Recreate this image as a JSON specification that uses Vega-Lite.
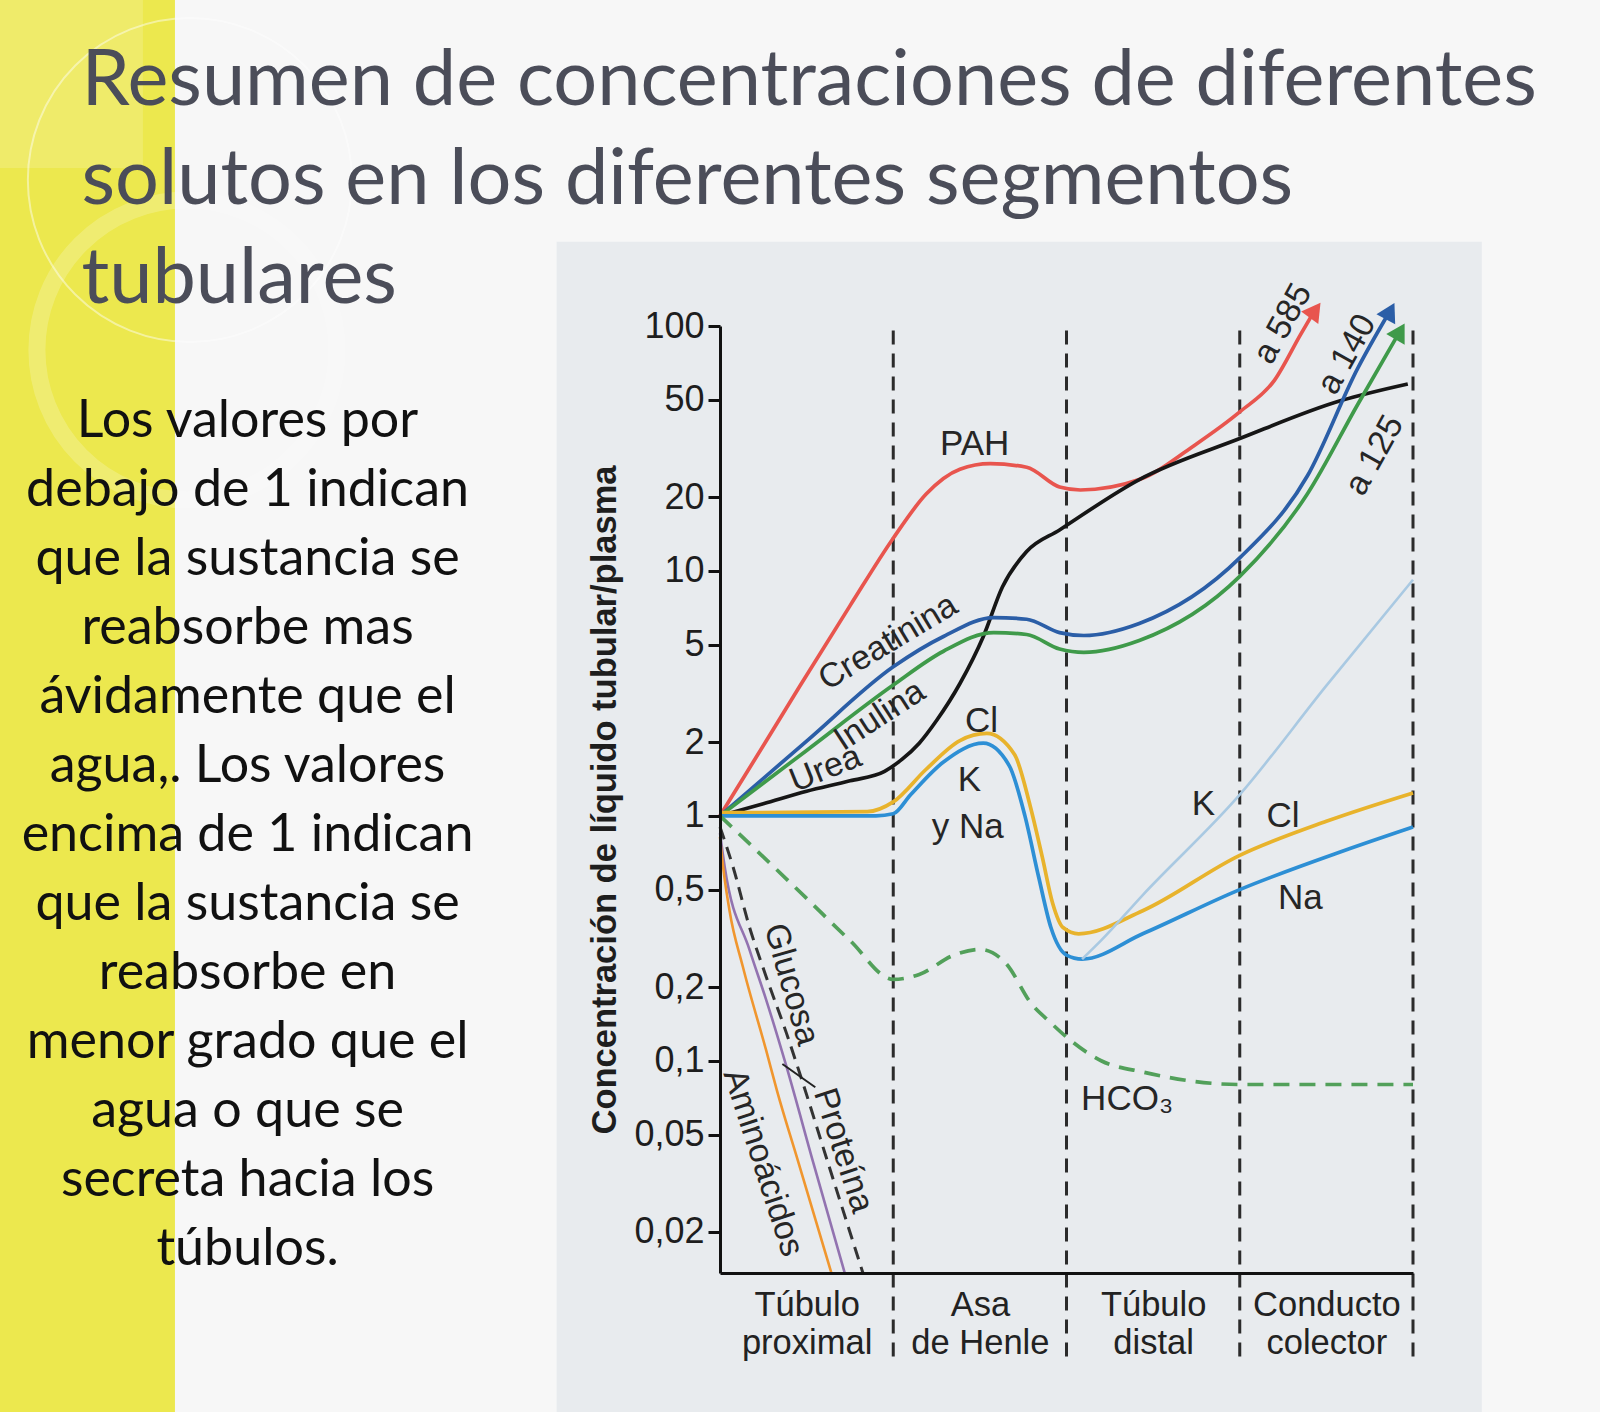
{
  "$schema": "https://vega.github.io/schema/vega-lite/v6.json",
  "width": 693,
  "height": 947,
  "autosize": {"type": "none"},
  "padding": {"left": 720, "top": 326, "right": 187, "bottom": 139},
  "background": "#f7f7f7",
  "config": {"view": {"stroke": null}, "font": "Liberation Sans"},
  "datasets": {
    "curves": [
      {"series": "PAH", "x": 0, "y": 1}, {"series": "PAH", "x": 0.27, "y": 2.04}, {"series": "PAH", "x": 0.462, "y": 3.4}, {"series": "PAH", "x": 0.75, "y": 7.2}, {"series": "PAH", "x": 1.0, "y": 13.6}, {"series": "PAH", "x": 1.19, "y": 20.6}, {"series": "PAH", "x": 1.385, "y": 26}, {"series": "PAH", "x": 1.56, "y": 27.4}, {"series": "PAH", "x": 1.77, "y": 26.5}, {"series": "PAH", "x": 1.96, "y": 22}, {"series": "PAH", "x": 2.08, "y": 21.4}, {"series": "PAH", "x": 2.42, "y": 23.6}, {"series": "PAH", "x": 2.75, "y": 33}, {"series": "PAH", "x": 3.0, "y": 44.6}, {"series": "PAH", "x": 3.2, "y": 60}, {"series": "PAH", "x": 3.35, "y": 92}, {"series": "PAH", "x": 3.43, "y": 115},
      {"series": "Urea", "x": 0, "y": 1}, {"series": "Urea", "x": 0.25, "y": 1.12}, {"series": "Urea", "x": 0.5, "y": 1.26}, {"series": "Urea", "x": 0.75, "y": 1.39}, {"series": "Urea", "x": 0.95, "y": 1.52}, {"series": "Urea", "x": 1.05, "y": 1.7}, {"series": "Urea", "x": 1.15, "y": 1.98}, {"series": "Urea", "x": 1.25, "y": 2.45}, {"series": "Urea", "x": 1.385, "y": 3.47}, {"series": "Urea", "x": 1.52, "y": 5.4}, {"series": "Urea", "x": 1.63, "y": 8.6}, {"series": "Urea", "x": 1.77, "y": 12}, {"series": "Urea", "x": 1.96, "y": 14.7}, {"series": "Urea", "x": 2.42, "y": 23.6}, {"series": "Urea", "x": 3.0, "y": 34.7}, {"series": "Urea", "x": 3.58, "y": 49.5}, {"series": "Urea", "x": 3.97, "y": 58},
      {"series": "Creatinina", "x": 0, "y": 1}, {"series": "Creatinina", "x": 0.5, "y": 2.02}, {"series": "Creatinina", "x": 1.0, "y": 4.06}, {"series": "Creatinina", "x": 1.29, "y": 5.4}, {"series": "Creatinina", "x": 1.58, "y": 6.45}, {"series": "Creatinina", "x": 1.77, "y": 6.35}, {"series": "Creatinina", "x": 1.96, "y": 5.6}, {"series": "Creatinina", "x": 2.1, "y": 5.45}, {"series": "Creatinina", "x": 2.42, "y": 6.1}, {"series": "Creatinina", "x": 3.0, "y": 11.3}, {"series": "Creatinina", "x": 3.39, "y": 24.4}, {"series": "Creatinina", "x": 3.68, "y": 67}, {"series": "Creatinina", "x": 3.86, "y": 113},
      {"series": "Inulina", "x": 0, "y": 1}, {"series": "Inulina", "x": 0.5, "y": 1.85}, {"series": "Inulina", "x": 1.0, "y": 3.42}, {"series": "Inulina", "x": 1.29, "y": 4.7}, {"series": "Inulina", "x": 1.58, "y": 5.6}, {"series": "Inulina", "x": 1.77, "y": 5.5}, {"series": "Inulina", "x": 1.96, "y": 4.8}, {"series": "Inulina", "x": 2.1, "y": 4.65}, {"series": "Inulina", "x": 2.42, "y": 5.2}, {"series": "Inulina", "x": 3.0, "y": 9.5}, {"series": "Inulina", "x": 3.39, "y": 20.6}, {"series": "Inulina", "x": 3.68, "y": 47.7}, {"series": "Inulina", "x": 3.92, "y": 94},
      {"series": "Cl", "x": 0, "y": 1.03}, {"series": "Cl", "x": 0.85, "y": 1.04}, {"series": "Cl", "x": 1.0, "y": 1.14}, {"series": "Cl", "x": 1.19, "y": 1.55}, {"series": "Cl", "x": 1.385, "y": 2.03}, {"series": "Cl", "x": 1.54, "y": 2.17}, {"series": "Cl", "x": 1.7, "y": 1.78}, {"series": "Cl", "x": 1.79, "y": 1.1}, {"series": "Cl", "x": 1.86, "y": 0.68}, {"series": "Cl", "x": 1.92, "y": 0.44}, {"series": "Cl", "x": 1.98, "y": 0.35}, {"series": "Cl", "x": 2.07, "y": 0.33}, {"series": "Cl", "x": 2.44, "y": 0.41}, {"series": "Cl", "x": 3.0, "y": 0.69}, {"series": "Cl", "x": 3.5, "y": 0.95}, {"series": "Cl", "x": 4.0, "y": 1.24},
      {"series": "Na", "x": 0, "y": 1}, {"series": "Na", "x": 0.9, "y": 1}, {"series": "Na", "x": 1.0, "y": 1.02}, {"series": "Na", "x": 1.1, "y": 1.22}, {"series": "Na", "x": 1.29, "y": 1.66}, {"series": "Na", "x": 1.52, "y": 1.98}, {"series": "Na", "x": 1.67, "y": 1.6}, {"series": "Na", "x": 1.76, "y": 1.0}, {"series": "Na", "x": 1.84, "y": 0.56}, {"series": "Na", "x": 1.91, "y": 0.35}, {"series": "Na", "x": 2.0, "y": 0.27}, {"series": "Na", "x": 2.09, "y": 0.26}, {"series": "Na", "x": 2.44, "y": 0.33}, {"series": "Na", "x": 3.0, "y": 0.5}, {"series": "Na", "x": 3.6, "y": 0.72}, {"series": "Na", "x": 4.0, "y": 0.9},
      {"series": "K", "x": 2.09, "y": 0.26}, {"series": "K", "x": 2.2, "y": 0.31}, {"series": "K", "x": 2.44, "y": 0.475}, {"series": "K", "x": 3.0, "y": 1.22}, {"series": "K", "x": 3.5, "y": 3.4}, {"series": "K", "x": 4.0, "y": 9.2},
      {"series": "HCO3", "x": 0, "y": 1}, {"series": "HCO3", "x": 0.25, "y": 0.68}, {"series": "HCO3", "x": 0.5, "y": 0.46}, {"series": "HCO3", "x": 0.75, "y": 0.31}, {"series": "HCO3", "x": 1.0, "y": 0.215}, {"series": "HCO3", "x": 1.15, "y": 0.225}, {"series": "HCO3", "x": 1.35, "y": 0.27}, {"series": "HCO3", "x": 1.5, "y": 0.285}, {"series": "HCO3", "x": 1.65, "y": 0.25}, {"series": "HCO3", "x": 1.8, "y": 0.17}, {"series": "HCO3", "x": 1.9, "y": 0.145}, {"series": "HCO3", "x": 2.0, "y": 0.125}, {"series": "HCO3", "x": 2.2, "y": 0.1}, {"series": "HCO3", "x": 2.44, "y": 0.09}, {"series": "HCO3", "x": 3.0, "y": 0.08}, {"series": "HCO3", "x": 4.0, "y": 0.08},
      {"series": "Glucosa", "x": 0, "y": 0.85}, {"series": "Glucosa", "x": 0.027, "y": 0.62}, {"series": "Glucosa", "x": 0.171, "y": 0.283}, {"series": "Glucosa", "x": 0.267, "y": 0.177}, {"series": "Glucosa", "x": 0.383, "y": 0.095}, {"series": "Glucosa", "x": 0.54, "y": 0.038}, {"series": "Glucosa", "x": 0.72, "y": 0.0136},
      {"series": "Aminoácidos", "x": 0, "y": 0.82}, {"series": "Aminoácidos", "x": 0.0075, "y": 0.72}, {"series": "Aminoácidos", "x": 0.055, "y": 0.41}, {"series": "Aminoácidos", "x": 0.132, "y": 0.242}, {"series": "Aminoácidos", "x": 0.267, "y": 0.11}, {"series": "Aminoácidos", "x": 0.33, "y": 0.075}, {"series": "Aminoácidos", "x": 0.45, "y": 0.039}, {"series": "Aminoácidos", "x": 0.643, "y": 0.0136},
      {"series": "Proteína", "x": 0, "y": 0.9}, {"series": "Proteína", "x": 0.075, "y": 0.62}, {"series": "Proteína", "x": 0.171, "y": 0.35}, {"series": "Proteína", "x": 0.267, "y": 0.22}, {"series": "Proteína", "x": 0.383, "y": 0.13}, {"series": "Proteína", "x": 0.46, "y": 0.089}, {"series": "Proteína", "x": 0.63, "y": 0.037}, {"series": "Proteína", "x": 0.825, "y": 0.0136}
    ],
    "arrows": [
      {"series": "PAH", "x": 3.435, "y": 116},
      {"series": "Creatinina", "x": 3.868, "y": 115},
      {"series": "Inulina", "x": 3.925, "y": 95}
    ],
    "dividers": [{"x": 1}, {"x": 2}, {"x": 3}, {"x": 4}],
    "labels": [
      {"label": "PAH", "x": 1.47, "y": 33},
      {"label": "Creatinina", "x": 0.971, "y": 5.1},
      {"label": "Inulina", "x": 0.923, "y": 2.56},
      {"label": "Urea", "x": 0.61, "y": 1.55},
      {"label": "Cl", "x": 1.51, "y": 2.44},
      {"label": "K", "x": 1.44, "y": 1.4},
      {"label": "y Na", "x": 1.43, "y": 0.9},
      {"label": "K", "x": 2.79, "y": 1.12},
      {"label": "Cl", "x": 3.25, "y": 1.0},
      {"label": "Na", "x": 3.35, "y": 0.464},
      {"label": "HCO₃", "x": 2.35, "y": 0.0695},
      {"label": "Glucosa", "x": 0.41, "y": 0.205},
      {"label": "Aminoácidos", "x": 0.247, "y": 0.0383},
      {"label": "Proteína", "x": 0.71, "y": 0.043},
      {"label": "a 585", "x": 3.25, "y": 102},
      {"label": "a 140", "x": 3.62, "y": 76.5},
      {"label": "a 125", "x": 3.78, "y": 29.6}
    ]
  },
  "layer": [
    {
      "data": {"values": [{}]},
      "mark": {"type": "rect", "color": "#ece84e"},
      "encoding": {
        "x": {"datum": -4.6, "type": "quantitative"},
        "x2": {"datum": -3.146},
        "y": {"datum": 100000, "type": "quantitative"},
        "y2": {"datum": 0.0005}
      }
    },
    {
      "data": {"values": [{}]},
      "mark": {"type": "rect", "color": "#ffffff", "opacity": 0.16},
      "encoding": {
        "x": {"datum": -4.6, "type": "quantitative"},
        "x2": {"datum": -3.331},
        "y": {"datum": 100000, "type": "quantitative"},
        "y2": {"datum": 441.6}
      }
    },
    {
      "data": {"values": [{}]},
      "mark": {"type": "point", "shape": "circle", "filled": false, "stroke": "#ffffff", "strokeWidth": 2, "opacity": 0.45, "size": 104976},
      "encoding": {
        "x": {"datum": -3.06, "type": "quantitative"},
        "y": {"datum": 394.6, "type": "quantitative"}
      }
    },
    {
      "data": {"values": [{}]},
      "mark": {"type": "point", "shape": "circle", "filled": false, "stroke": "#ffffff", "strokeWidth": 17, "opacity": 0.2, "size": 90000},
      "encoding": {
        "x": {"datum": -3.077, "type": "quantitative"},
        "y": {"datum": 79.8, "type": "quantitative"}
      }
    },
    {
      "data": {"values": [{}]},
      "mark": {"type": "rect", "color": "#e8ebee"},
      "encoding": {
        "x": {"datum": -0.943, "type": "quantitative"},
        "x2": {"datum": 4.397},
        "y": {"datum": 221, "type": "quantitative"},
        "y2": {"datum": 0.0005}
      }
    },
    {
      "data": {"values": [{}]},
      "mark": {"type": "text", "text": ["Resumen de concentraciones de diferentes", "solutos en los diferentes segmentos", "tubulares"], "align": "left", "baseline": "alphabetic", "font": "Lato", "fontSize": 77.5, "lineHeight": 99, "color": "#4b4d59"},
      "encoding": {
        "x": {"datum": -3.686, "type": "quantitative"},
        "y": {"datum": 798, "type": "quantitative"}
      }
    },
    {
      "data": {"values": [{}]},
      "mark": {"type": "text", "text": ["Los valores por", "debajo de 1 indican", "que la sustancia se", "reabsorbe mas", "ávidamente que el", "agua,. Los valores", "encima de 1 indican", "que la sustancia se", "reabsorbe en", "menor grado que el", "agua o que se", "secreta hacia los", "túbulos."], "align": "center", "baseline": "alphabetic", "font": "Lato", "fontSize": 52, "lineHeight": 69, "color": "#111111"},
      "encoding": {
        "x": {"datum": -2.727, "type": "quantitative"},
        "y": {"datum": 35.2, "type": "quantitative"}
      }
    },
    {
      "data": {"name": "dividers"},
      "mark": {"type": "rule", "color": "#2b2b2b", "strokeWidth": 3, "strokeDash": [14, 9]},
      "encoding": {
        "x": {"field": "x", "type": "quantitative"},
        "y": {"datum": 0.0062, "type": "quantitative"},
        "y2": {"datum": 102}
      }
    },
    {
      "data": {"name": "curves"},
      "transform": [{"filter": {"field": "series", "oneOf": ["PAH", "Urea", "Creatinina", "Inulina", "Cl", "Na"]}}],
      "mark": {"type": "line", "interpolate": "monotone", "strokeWidth": 3.7},
      "encoding": {
        "x": {"field": "x", "type": "quantitative", "scale": {"domain": [0, 4], "nice": false, "zero": false},
          "axis": {"values": [0.5, 1.5, 2.5, 3.5], "labelExpr": "datum.value < 1 ? ['Túbulo', 'proximal'] : datum.value < 2 ? ['Asa', 'de Henle'] : datum.value < 3 ? ['Túbulo', 'distal'] : ['Conducto', 'colector']", "title": null, "ticks": false, "grid": false, "domainColor": "#111111", "domainWidth": 3, "labelFontSize": 34.5, "labelFont": "Liberation Sans", "labelColor": "#222222", "labelLineHeight": 38, "labelPadding": 15, "labelFlush": false, "labelOverlap": false, "labelBaseline": "top", "zindex": 5}},
        "y": {"field": "y", "type": "quantitative", "scale": {"type": "log", "domain": [0.0136, 100], "nice": false},
          "axis": {"values": [0.02, 0.05, 0.1, 0.2, 0.5, 1, 2, 5, 10, 20, 50, 100], "labelExpr": "replace(format(datum.value, '~g'), '.', ',')", "title": "Concentración de líquido tubular/plasma", "titleFontSize": 34.5, "titleFont": "Liberation Sans", "titleFontWeight": "bold", "titleColor": "#1e1e1e", "titlePadding": 11, "grid": false, "domainColor": "#111111", "domainWidth": 3, "tickColor": "#111111", "tickWidth": 3, "tickSize": 12, "labelFontSize": 36, "labelFont": "Liberation Sans", "labelColor": "#1e1e1e", "labelPadding": 4, "labelFlush": false, "labelOverlap": false, "zindex": 5}},
        "color": {"field": "series", "type": "nominal", "legend": null,
          "scale": {"domain": ["PAH", "Urea", "Creatinina", "Inulina", "Cl", "Na", "K", "HCO3", "Glucosa", "Aminoácidos", "Proteína"],
            "range": ["#e8554e", "#161616", "#2b5ea7", "#3f9a4a", "#e8b32c", "#2d8fd5", "#a9c9e2", "#52a05a", "#9273b0", "#f0962e", "#333333"]}}
      }
    },
    {
      "data": {"name": "curves"},
      "transform": [{"filter": {"field": "series", "oneOf": ["K", "Glucosa", "Aminoácidos"]}}],
      "mark": {"type": "line", "interpolate": "monotone", "strokeWidth": 2.6},
      "encoding": {
        "x": {"field": "x", "type": "quantitative"},
        "y": {"field": "y", "type": "quantitative"},
        "color": {"field": "series", "type": "nominal", "legend": null}
      }
    },
    {
      "data": {"name": "curves"},
      "transform": [{"filter": {"field": "series", "equal": "HCO3"}}],
      "mark": {"type": "line", "interpolate": "monotone", "strokeWidth": 3.7, "strokeDash": [16, 10]},
      "encoding": {
        "x": {"field": "x", "type": "quantitative"},
        "y": {"field": "y", "type": "quantitative"},
        "color": {"field": "series", "type": "nominal", "legend": null}
      }
    },
    {
      "data": {"name": "curves"},
      "transform": [{"filter": {"field": "series", "equal": "Proteína"}}],
      "mark": {"type": "line", "interpolate": "monotone", "strokeWidth": 3, "strokeDash": [13, 8]},
      "encoding": {
        "x": {"field": "x", "type": "quantitative"},
        "y": {"field": "y", "type": "quantitative"},
        "color": {"field": "series", "type": "nominal", "legend": null}
      }
    },
    {
      "data": {"values": [{}]},
      "mark": {"type": "rule", "color": "#222222", "strokeWidth": 2},
      "encoding": {
        "x": {"datum": 0.36, "type": "quantitative"},
        "y": {"datum": 0.097, "type": "quantitative"},
        "x2": {"datum": 0.55},
        "y2": {"datum": 0.078}
      }
    },
    {
      "data": {"name": "arrows"},
      "transform": [{"filter": {"field": "series", "equal": "PAH"}}],
      "mark": {"type": "point", "shape": "triangle-up", "filled": true, "opacity": 1, "size": 450, "angle": 36},
      "encoding": {
        "x": {"field": "x", "type": "quantitative"},
        "y": {"field": "y", "type": "quantitative"},
        "color": {"field": "series", "type": "nominal", "legend": null}
      }
    },
    {
      "data": {"name": "arrows"},
      "transform": [{"filter": {"field": "series", "equal": "Creatinina"}}],
      "mark": {"type": "point", "shape": "triangle-up", "filled": true, "opacity": 1, "size": 450, "angle": 28},
      "encoding": {
        "x": {"field": "x", "type": "quantitative"},
        "y": {"field": "y", "type": "quantitative"},
        "color": {"field": "series", "type": "nominal", "legend": null}
      }
    },
    {
      "data": {"name": "arrows"},
      "transform": [{"filter": {"field": "series", "equal": "Inulina"}}],
      "mark": {"type": "point", "shape": "triangle-up", "filled": true, "opacity": 1, "size": 450, "angle": 30},
      "encoding": {
        "x": {"field": "x", "type": "quantitative"},
        "y": {"field": "y", "type": "quantitative"},
        "color": {"field": "series", "type": "nominal", "legend": null}
      }
    },
    {
      "data": {"name": "labels"},
      "transform": [{"filter": {"field": "label", "oneOf": ["PAH", "Cl", "K", "y Na", "Na", "HCO₃"]}}],
      "mark": {"type": "text", "font": "Liberation Sans", "fontSize": 35, "color": "#262626", "align": "center", "baseline": "middle"},
      "encoding": {
        "x": {"field": "x", "type": "quantitative"},
        "y": {"field": "y", "type": "quantitative"},
        "text": {"field": "label"}
      }
    },
    {
      "data": {"name": "labels"},
      "transform": [{"filter": {"field": "label", "equal": "Creatinina"}}],
      "mark": {"type": "text", "font": "Liberation Sans", "fontSize": 34, "color": "#262626", "align": "center", "baseline": "middle", "angle": -31},
      "encoding": {
        "x": {"field": "x", "type": "quantitative"},
        "y": {"field": "y", "type": "quantitative"},
        "text": {"field": "label"}
      }
    },
    {
      "data": {"name": "labels"},
      "transform": [{"filter": {"field": "label", "equal": "Inulina"}}],
      "mark": {"type": "text", "font": "Liberation Sans", "fontSize": 34, "color": "#262626", "align": "center", "baseline": "middle", "angle": -33},
      "encoding": {
        "x": {"field": "x", "type": "quantitative"},
        "y": {"field": "y", "type": "quantitative"},
        "text": {"field": "label"}
      }
    },
    {
      "data": {"name": "labels"},
      "transform": [{"filter": {"field": "label", "equal": "Urea"}}],
      "mark": {"type": "text", "font": "Liberation Sans", "fontSize": 34, "color": "#262626", "align": "center", "baseline": "middle", "angle": -22},
      "encoding": {
        "x": {"field": "x", "type": "quantitative"},
        "y": {"field": "y", "type": "quantitative"},
        "text": {"field": "label"}
      }
    },
    {
      "data": {"name": "labels"},
      "transform": [{"filter": {"field": "label", "oneOf": ["a 585", "a 140", "a 125"]}}],
      "mark": {"type": "text", "font": "Liberation Sans", "fontSize": 34, "color": "#262626", "align": "center", "baseline": "middle", "angle": -61},
      "encoding": {
        "x": {"field": "x", "type": "quantitative"},
        "y": {"field": "y", "type": "quantitative"},
        "text": {"field": "label"}
      }
    },
    {
      "data": {"name": "labels"},
      "transform": [{"filter": {"field": "label", "equal": "Glucosa"}}],
      "mark": {"type": "text", "font": "Liberation Sans", "fontSize": 34, "color": "#262626", "align": "center", "baseline": "middle", "angle": 74},
      "encoding": {
        "x": {"field": "x", "type": "quantitative"},
        "y": {"field": "y", "type": "quantitative"},
        "text": {"field": "label"}
      }
    },
    {
      "data": {"name": "labels"},
      "transform": [{"filter": {"field": "label", "oneOf": ["Aminoácidos", "Proteína"]}}],
      "mark": {"type": "text", "font": "Liberation Sans", "fontSize": 34, "color": "#262626", "align": "center", "baseline": "middle", "angle": 72},
      "encoding": {
        "x": {"field": "x", "type": "quantitative"},
        "y": {"field": "y", "type": "quantitative"},
        "text": {"field": "label"}
      }
    }
  ]
}
